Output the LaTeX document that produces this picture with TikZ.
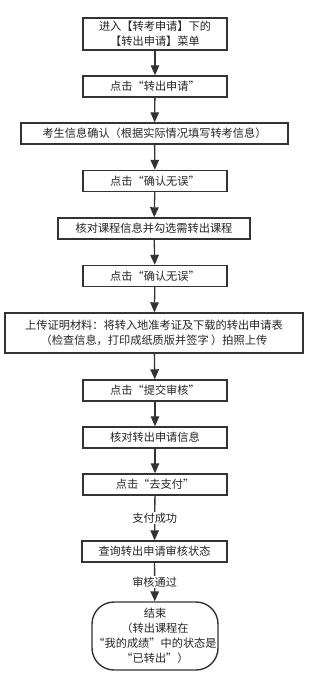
\documentclass[tikz,border=0pt]{standalone}
\usepackage{fontspec}
\setmainfont{Noto Sans CJK SC}
\usetikzlibrary{arrows.meta}
\definecolor{ln}{HTML}{333333}
\definecolor{tx}{HTML}{262626}
\begin{document}
\begin{tikzpicture}[x=1pt,y=-1pt,
  box/.style={draw=ln,line width=1.4pt,fill=white,inner sep=0pt,text=tx,font=\fontsize{11.2}{15}\selectfont,align=center},
  arr/.style={draw=ln,line width=1.3pt,-{Triangle[length=10pt,width=8.5pt]}},
  lbl/.style={fill=white,text=tx,font=\fontsize{11.2}{15}\selectfont,inner sep=1pt}]
\useasboundingbox (0,0) rectangle (309,674);
\node[box,minimum width=144pt,minimum height=32pt] (b1) at (155,34) {进入【转考申请】下的\\【转出申请】菜单};
\node[box,minimum width=144pt,minimum height=21pt] (b2) at (155,86.5) {点击“转出申请”};
\node[box,minimum width=267pt,minimum height=21pt] (b3) at (154.5,133.5) {考生信息确认（根据实际情况填写转考信息）};
\node[box,minimum width=144pt,minimum height=21pt] (b4) at (155,181) {点击“确认无误”};
\node[box,minimum width=192pt,minimum height=21pt] (b5) at (154,228.5) {核对课程信息并勾选需转出课程};
\node[box,minimum width=144pt,minimum height=21pt] (b6) at (155,276) {点击“确认无误”};
\node[box,minimum width=298pt,minimum height=40pt] (b7) at (154,333) {上传证明材料：将转入地准考证及下载的转出申请表\\（检查信息，打印成纸质版并签字 ）拍照上传};
\node[box,minimum width=144pt,minimum height=21pt] (b8) at (155,390.5) {点击“提交审核”};
\node[box,minimum width=144pt,minimum height=21pt] (b9) at (155,437.5) {核对转出申请信息};
\node[box,minimum width=144pt,minimum height=21pt] (b10) at (155,484.5) {点击“去支付”};
\node[box,minimum width=145pt,minimum height=21pt] (b11) at (154.5,551.5) {查询转出申请审核状态};
\node[box,rounded corners=22pt,minimum width=126pt,minimum height=68pt] (b12) at (155,636) {结束\\（转出课程在\\“我的成绩”中的状态是\\“已转出”）};
\draw[arr] (b1) -- (b2);
\draw[arr] (b2) -- (b3);
\draw[arr] (b3) -- (b4);
\draw[arr] (b4) -- (b5);
\draw[arr] (b5) -- (b6);
\draw[arr] (b6) -- (b7);
\draw[arr] (b7) -- (b8);
\draw[arr] (b8) -- (b9);
\draw[arr] (b9) -- (b10);
\draw[arr] (b10) -- node[lbl] (l1) {支付成功} (b11);
\draw[arr] (b11) -- node[lbl] (l2) {审核通过} (b12);
\end{tikzpicture}
\end{document}
